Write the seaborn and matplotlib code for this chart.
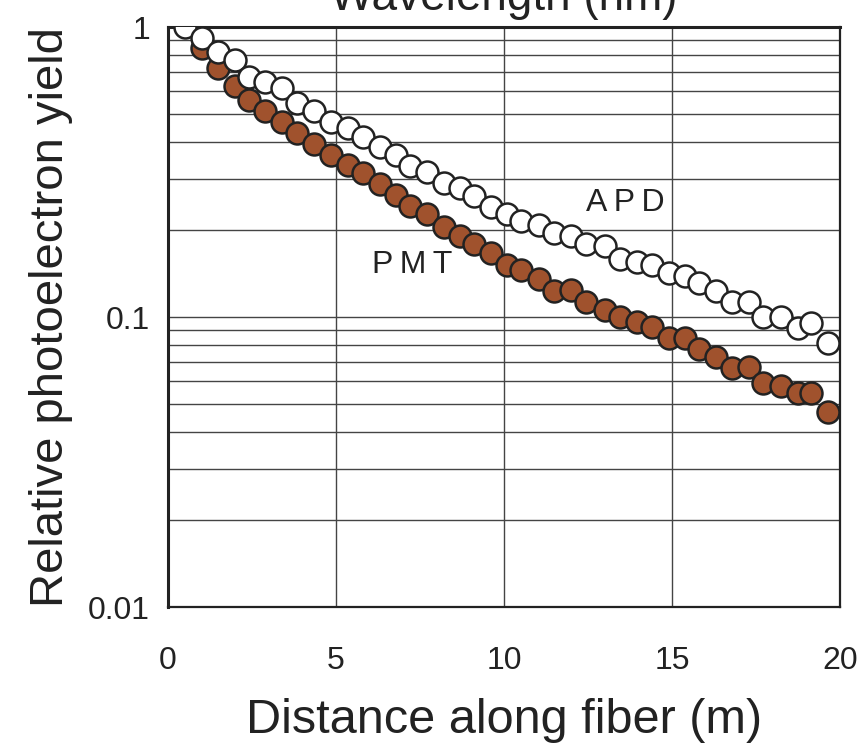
import numpy as np
import pandas as pd
import matplotlib
matplotlib.use('Agg')
import matplotlib.pyplot as plt
import matplotlib.ticker as ticker
import seaborn as sns

# 데이터
apd_x = [0.5, 1.0, 1.5, 2.0, 2.4, 2.9, 3.4, 3.85, 4.35, 4.85, 5.35, 5.8, 6.3, 6.8,
         7.2, 7.7, 8.2, 8.7, 9.1, 9.6, 10.1, 10.5, 11.05, 11.5, 12.0, 12.45, 13.0,
         13.45, 13.95, 14.4, 14.9, 15.4, 15.8, 16.3, 16.8, 17.3, 17.7, 18.25, 18.75,
         19.15, 19.65]
apd_y = [1.0, 0.918, 0.818, 0.768, 0.674, 0.648, 0.615, 0.545, 0.513, 0.469, 0.447,
         0.418, 0.387, 0.362, 0.332, 0.315, 0.289, 0.278, 0.261, 0.240, 0.227, 0.215,
         0.208, 0.195, 0.190, 0.179, 0.176, 0.159, 0.155, 0.151, 0.142, 0.138, 0.131,
         0.123, 0.113, 0.113, 0.100, 0.100, 0.0918, 0.0951, 0.0815]

pmt_x = apd_x[1:]
pmt_y = [0.846, 0.720, 0.628, 0.560, 0.515, 0.469, 0.430, 0.395, 0.362, 0.334, 0.313,
         0.287, 0.263, 0.241, 0.227, 0.205, 0.190, 0.179, 0.166, 0.151, 0.145, 0.135,
         0.123, 0.124, 0.113, 0.106, 0.100, 0.0963, 0.0921, 0.0845, 0.0845, 0.0774,
         0.0730, 0.0665, 0.0671, 0.0593, 0.0578, 0.0546, 0.0546, 0.0471]

x_ticks = [0, 5, 10, 15, 20]
y_ticks = [0.01, 0.1, 1]
y_tick_labels = ['0.01', '0.1', '1']

apd_df = pd.DataFrame({'x': apd_x, 'y': apd_y})
pmt_df = pd.DataFrame({'x': pmt_x, 'y': pmt_y})

sns.set_style('white')
plt.rcParams['font.family'] = ['Liberation Sans', 'DejaVu Sans']

fig = plt.figure(figsize=(8.62, 7.48), dpi=100)
ax = fig.add_axes([0.1949, 0.1885, 0.7796, 0.7754])

# 그리드 먼저
ax.set_yscale('log')
ax.set_xlim(0, 20)
ax.set_ylim(0.01, 1)
ax.yaxis.set_minor_locator(ticker.LogLocator(base=10, subs=np.arange(2, 10)))
ax.grid(which='both', axis='y', color='#444444', linewidth=1.0)
ax.grid(which='major', axis='x', color='#444444', linewidth=1.0)
ax.set_axisbelow(True)

sns.scatterplot(data=pmt_df, x='x', y='y', ax=ax, color='#A0522D', s=250,
                edgecolor='#222222', linewidth=1.8, zorder=3)
sns.scatterplot(data=apd_df, x='x', y='y', ax=ax, color='white', s=250,
                edgecolor='#222222', linewidth=1.8, zorder=4)

ax.set_xticks(x_ticks)
ax.set_xticklabels([str(t) for t in x_ticks])
ax.set_yticks(y_ticks)
ax.set_yticklabels(y_tick_labels)
ax.yaxis.set_minor_formatter(ticker.NullFormatter())
ax.tick_params(axis='both', which='major', direction='out', length=8, width=1.2,
               color='#222222', labelsize=23, labelcolor='#222222')
ax.tick_params(axis='x', pad=20)
ax.tick_params(axis='y', pad=5)
ax.tick_params(which='minor', length=0)

for side, lw in [('left', 2.2), ('bottom', 1.6), ('top', 2.2), ('right', 1.6)]:
    ax.spines[side].set_color('#222222')
    ax.spines[side].set_linewidth(lw)

ax.set_xlabel('Distance along fiber (m)', fontsize=35, color='#222222', labelpad=16)
ax.set_ylabel('Relative photoelectron yield', fontsize=34, color='#222222', labelpad=11)

ax.text(13.6, 0.247, 'A\u2009P\u2009D', fontsize=23, color='#222222', ha='center',
        va='center', zorder=5)
ax.text(7.26, 0.151, 'P\u2009M\u2009T', fontsize=23, color='#222222', ha='center',
        va='center', zorder=5)

# 위쪽에 잘린 제목
fig.text(0.584, 0.9866, 'Wavelength (nm)', fontsize=33, color='#222222',
         ha='center', va='baseline')

fig.savefig('out.png', dpi=100)
